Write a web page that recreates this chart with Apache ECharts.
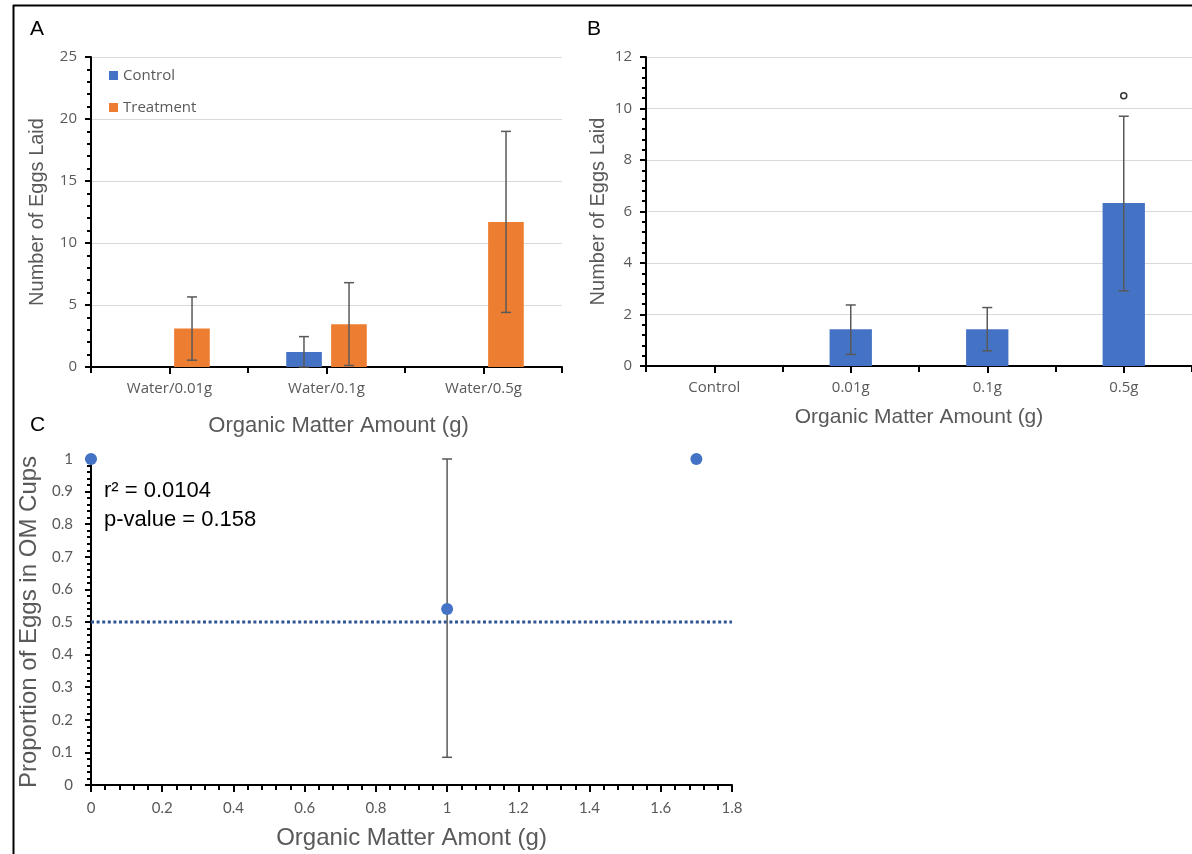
<!DOCTYPE html>
<html>
<head>
<meta charset="utf-8">
<script src="https://cdn.jsdelivr.net/npm/echarts@6/dist/echarts.min.js"></script>
<style>
  html, body { margin: 0; padding: 0; background: #fff; }
  #main { width: 1192px; height: 854px; }
</style>
</head>
<body>
<div id="main"></div>
<script>
// panel A
var catsA = ['Water/0.01g', 'Water/0.1g', 'Water/0.5g'];
var controlA = [0, 1.2, 0];
var controlAErr = [null, [0, 2.45], null];
var treatA = [3.1, 3.45, 11.7];
var treatAErr = [[0.55, 5.65], [0.12, 6.8], [4.4, 19.0]];

// panel B
var catsB = ['Control', '0.01g', '0.1g', '0.5g'];
var eggsB = [0, 1.43, 1.43, 6.33];
var eggsBErr = [null, [0.45, 2.37], [0.59, 2.27], [2.92, 9.7]];
var sigB = [null, null, null, 10.5];

// panel C
var omC = [0, 1, 1.7];
var propC = [1, 0.54, 1];
var propCErr = [null, [0.085, 1.0], null];
var refC = 0.5;
var refCRange = [0, 1.8];

var GRAY = '#595959';
var TICKFONT = 'Open Sans';
var TITLEFONT = 'Liberation Sans';

function errData(xs, errs) {
    var out = [];
    errs.forEach(function (e, i) {
        if (e) out.push([xs ? xs[i] : i, e[0], e[1]]);
    });
    return out;
}

function errSeries(name, xi, yi, data, shift) {
    return {
        type: 'custom',
        name: name,
        xAxisIndex: xi,
        yAxisIndex: yi,
        z: 10,
        silent: true,
        data: data,
        renderItem: function (params, api) {
            var band = api.size([1, 0])[0];
            var lo = api.coord([api.value(0), api.value(1)]);
            var hi = api.coord([api.value(0), api.value(2)]);
            var x = lo[0] + shift * band;
            var cap = 5;
            var st = { stroke: GRAY, lineWidth: 1.5 };
            return {
                type: 'group',
                children: [
                    { type: 'line', shape: { x1: x, y1: lo[1], x2: x, y2: hi[1] }, style: st },
                    { type: 'line', shape: { x1: x - cap, y1: lo[1], x2: x + cap, y2: lo[1] }, style: st },
                    { type: 'line', shape: { x1: x - cap, y1: hi[1], x2: x + cap, y2: hi[1] }, style: st }
                ]
            };
        }
    };
}

function catAxis(grid, cats, ticksOnly) {
    return {
        type: 'category',
        gridIndex: grid,
        position: 'bottom',
        data: cats,
        axisLine: { show: !ticksOnly, lineStyle: { color: '#000', width: 2 } },
        axisTick: ticksOnly
            ? { show: true, alignWithLabel: true, length: 7, lineStyle: { color: '#000', width: 2 } }
            : { show: true, length: 6, lineStyle: { color: '#000', width: 2 } },
        axisLabel: ticksOnly ? { show: false } : {
            color: GRAY, fontFamily: TICKFONT, fontSize: 15, margin: 14
        },
        splitLine: { show: false }
    };
}

function valAxisY(grid, max, interval, name, gap) {
    return {
        type: 'value',
        gridIndex: grid,
        min: 0,
        max: max,
        interval: interval,
        name: name,
        nameLocation: 'middle',
        nameGap: gap,
        nameTextStyle: { color: GRAY, fontFamily: TITLEFONT, fontSize: 20 },
        axisLine: { show: true, lineStyle: { color: '#000', width: 2 } },
        axisTick: { show: true, length: 6, lineStyle: { color: '#000', width: 2 } },
        minorTick: { show: true, splitNumber: 5, length: 4, lineStyle: { color: '#000', width: 2 } },
        axisLabel: { color: GRAY, fontFamily: TICKFONT, fontSize: 15, margin: 14 },
        splitLine: { show: true, lineStyle: { color: '#d9d9d9', width: 1 } }
    };
}

var chart = echarts.init(document.getElementById('main'));

var option = {
    animation: false,
    backgroundColor: '#fff',
    graphic: [
        { type: 'line', shape: { x1: 13, y1: 5.5, x2: 1192, y2: 5.5 }, style: { stroke: '#000', lineWidth: 2 } },
        { type: 'line', shape: { x1: 13.5, y1: 5, x2: 13.5, y2: 854 }, style: { stroke: '#000', lineWidth: 2 } },
        { type: 'text', left: 30, top: 19, style: { text: 'A', font: '21px Liberation Sans', fill: '#000' } },
        { type: 'text', left: 587, top: 19, style: { text: 'B', font: '21px Liberation Sans', fill: '#000' } },
        { type: 'text', left: 30, top: 415, style: { text: 'C', font: '21px Liberation Sans', fill: '#000' } },
        { type: 'text', left: 104, top: 480, style: { text: 'r\u00b2 = 0.0104', font: '22px Liberation Sans', fill: '#000' } },
        { type: 'text', left: 104, top: 509, style: { text: 'p-value = 0.158', font: '22px Liberation Sans', fill: '#000' } }
    ],
    legend: {
        data: ['Control', 'Treatment'],
        orient: 'vertical',
        left: 104,
        top: 63,
        itemWidth: 9,
        itemHeight: 9,
        itemGap: 17,
        icon: 'rect',
        textStyle: { color: GRAY, fontFamily: TICKFONT, fontSize: 15 }
    },
    grid: [
        { left: 91, top: 57, width: 471, height: 310 },
        { left: 646, top: 57, width: 558, height: 309 },
        { left: 91, top: 459, width: 641, height: 326 }
    ],
    xAxis: [
        Object.assign(catAxis(0, catsA, false), {
            name: 'Organic Matter Amount (g)', nameLocation: 'middle', nameGap: 48,
            nameTextStyle: { color: GRAY, fontFamily: TITLEFONT, fontSize: 22, padding: [0, 0, 0, 24] }
        }),
        catAxis(0, catsA, true),
        Object.assign(catAxis(1, catsB, false), {
            name: 'Organic Matter Amount (g)', nameLocation: 'middle', nameGap: 41,
            nameTextStyle: { color: GRAY, fontFamily: TITLEFONT, fontSize: 21 }
        }),
        catAxis(1, catsB, true),
        {
            type: 'value',
            gridIndex: 2,
            position: 'bottom',
            min: 0,
            max: 1.8,
            interval: 0.2,
            name: 'Organic Matter Amont (g)',
            nameLocation: 'middle',
            nameGap: 41,
            nameTextStyle: { color: GRAY, fontFamily: TITLEFONT, fontSize: 24 },
            axisLine: { show: true, lineStyle: { color: '#000', width: 2 } },
            axisTick: { show: true, length: 7, lineStyle: { color: '#000', width: 2 } },
            minorTick: { show: true, splitNumber: 5, length: 5, lineStyle: { color: '#000', width: 2 } },
            axisLabel: { color: GRAY, fontFamily: 'Lato', fontSize: 15, margin: 16 },
            splitLine: { show: false }
        }
    ],
    yAxis: [
        valAxisY(0, 25, 5, 'Number of Eggs Laid', 44),
        valAxisY(1, 12, 2, 'Number of Eggs Laid', 38),
        Object.assign(valAxisY(2, 1, 0.1, 'Proportion of Eggs in OM Cups', 50), {
            nameTextStyle: { color: GRAY, fontFamily: TITLEFONT, fontSize: 24, padding: [0, 0, 0, 0] },
            axisLabel: { color: GRAY, fontFamily: 'Lato', fontSize: 15, margin: 18 },
            splitLine: { show: false }
        })
    ],
    series: [
        {
            name: 'Control', type: 'bar', xAxisIndex: 0, yAxisIndex: 0,
            data: controlA, barWidth: '22.7%', barGap: '26%',
            itemStyle: { color: '#4472C4' }
        },
        {
            name: 'Treatment', type: 'bar', xAxisIndex: 0, yAxisIndex: 0,
            data: treatA, barWidth: '22.7%', barGap: '26%',
            itemStyle: { color: '#ED7D31' }
        },
        errSeries('ctrlErr', 0, 0, errData(null, controlAErr), -0.1435),
        errSeries('treatErr', 0, 0, errData(null, treatAErr), 0.1435),
        {
            name: 'Eggs', type: 'bar', xAxisIndex: 2, yAxisIndex: 1,
            data: eggsB, barWidth: '31%',
            itemStyle: { color: '#4472C4' }
        },
        errSeries('eggsErr', 2, 1, errData(null, eggsBErr), 0),
        {
            name: 'sig', type: 'scatter', xAxisIndex: 2, yAxisIndex: 1,
            data: sigB.map(function (v, i) { return v == null ? null : [i, v]; }).filter(Boolean),
            symbol: 'circle', symbolSize: 6,
            itemStyle: { color: '#fff', borderColor: '#000', borderWidth: 1.5 }
        },
        {
            name: 'ref', type: 'line', xAxisIndex: 4, yAxisIndex: 2,
            data: refCRange.map(function (x) { return [x, refC]; }),
            symbol: 'none',
            lineStyle: { color: '#2F5597', width: 3, type: [3, 2.6] }
        },
        errSeries('propErr', 4, 2, errData(omC, propCErr), 0),
        {
            name: 'prop', type: 'scatter', xAxisIndex: 4, yAxisIndex: 2,
            data: omC.map(function (x, i) { return [x, propC[i]]; }),
            symbolSize: 12, clip: false, z: 12,
            itemStyle: { color: '#4472C4', opacity: 1 }
        }
    ]
};

chart.setOption(option);
</script>
</body>
</html>
